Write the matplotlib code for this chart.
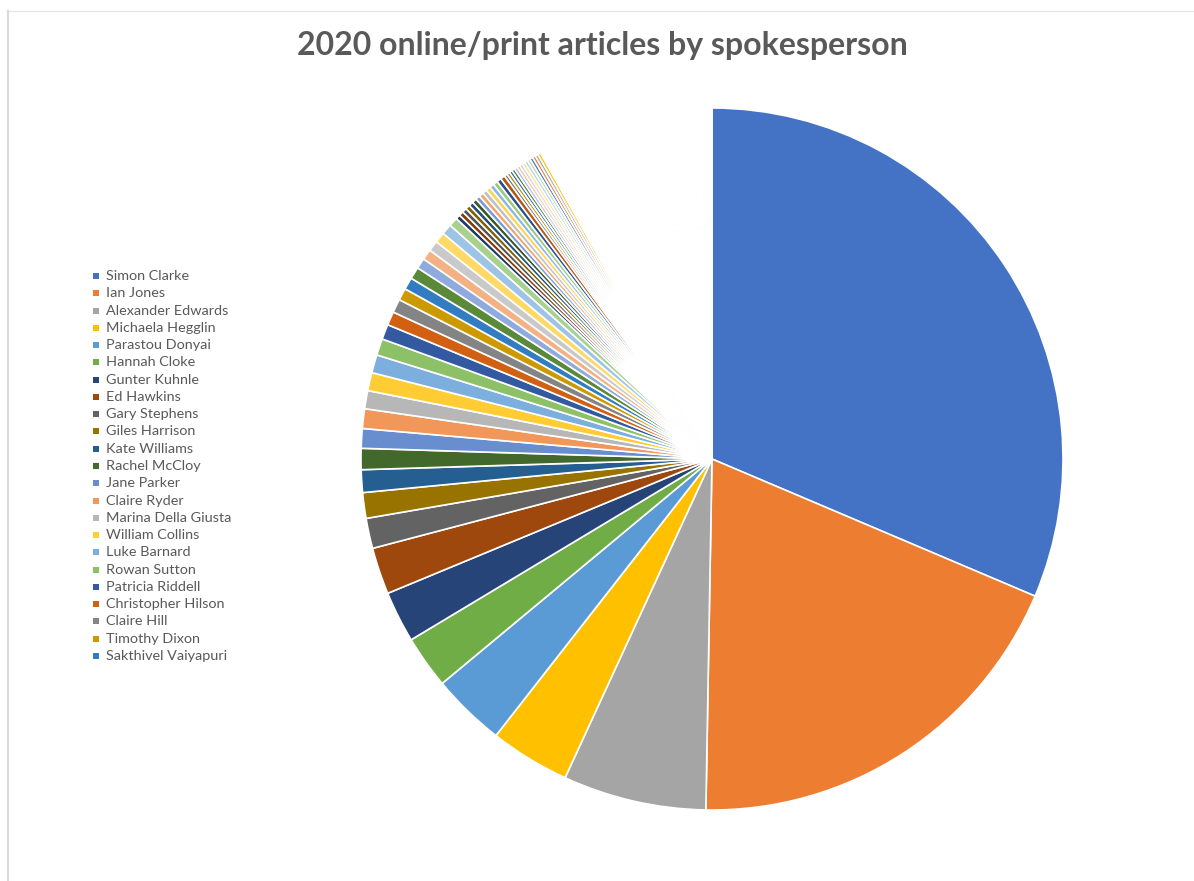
import colorsys
import matplotlib
matplotlib.use("Agg")
import matplotlib.pyplot as plt
from matplotlib.colors import to_rgb
from matplotlib.lines import Line2D
from matplotlib.patches import Rectangle

# spokespeople shown in the legend, largest first
spokespeople = [
    "Simon Clarke", "Ian Jones", "Alexander Edwards", "Michaela Hegglin",
    "Parastou Donyai", "Hannah Cloke", "Gunter Kuhnle", "Ed Hawkins",
    "Gary Stephens", "Giles Harrison", "Kate Williams", "Rachel McCloy",
    "Jane Parker", "Claire Ryder", "Marina Della Giusta", "William Collins",
    "Luke Barnard", "Rowan Sutton", "Patricia Riddell", "Christopher Hilson",
    "Claire Hill", "Timothy Dixon", "Sakthivel Vaiyapuri",
]
articles_named = [
    452, 272, 95, 53, 49, 35, 34, 31, 20, 17, 15, 14,
    13, 13, 12, 12, 12, 11, 10, 9, 9, 8, 8,
]
# everyone else, not listed in the legend
articles_other = [
    8, 7, 7, 7, 7, 7, 6,
    3, 3, 3, 3, 3, 3, 3, 3, 3, 3, 3, 3, 3, 3,
    2, 2, 2, 2, 2, 2, 2, 2, 2, 2, 2, 2, 2, 2,
    1, 1, 1, 1, 1, 1, 1, 1, 1, 1, 1, 1, 1, 1, 1, 1, 1, 1, 1, 1,
    1, 1, 1, 1, 1, 1, 1, 1, 1, 1, 1, 1, 1, 1, 1, 1, 1, 1, 1, 1,
    1, 1, 1, 1, 1, 1, 1, 1, 1, 1, 1, 1, 1, 1, 1, 1, 1, 1, 1, 1,
    1, 1, 1, 1, 1, 1, 1, 1, 1, 1, 1, 1, 1, 1, 1, 1, 1, 1, 1, 1,
    1, 1, 1, 1, 1, 1, 1, 1, 1, 1, 1, 1, 1, 1, 1, 1, 1, 1, 1, 1,
    1, 1, 1, 1, 1, 1, 1, 1, 1, 1, 1, 1, 1, 1, 1, 1, 1,
]
articles = articles_named + articles_other

# office theme accents, then darker / lighter shades of them
accents = ["#4472C4", "#ED7D31", "#A5A5A5", "#FFC000", "#5B9BD5", "#70AD47"]
shades = [(1.0, 0.0), (0.6, 0.0), (0.8, 0.2), (0.8, 0.0), (0.6, 0.4),
          (0.5, 0.0), (0.7, 0.3), (0.7, 0.0), (0.5, 0.5)]


def slice_color(i):
    mod, off = shades[(i // 6) % len(shades)]
    h, l, s = colorsys.rgb_to_hls(*to_rgb(accents[i % 6]))
    return colorsys.hls_to_rgb(h, min(1.0, l * mod + off), s)


colors = [slice_color(i) for i in range(len(articles))]

W, H = 1194, 881
fig = plt.figure(figsize=(W / 100, H / 100), dpi=100)
plt.rcParams['font.family'] = ['Lato', 'DejaVu Sans']
text_grey = "#595959"

# pie, 12 o'clock start, clockwise
cx, cy, r = 712, 459, 351
ax = fig.add_axes([(cx - r) / W, (H - cy - r) / H, 2 * r / W, 2 * r / H])
wedges, _ = ax.pie(articles, colors=colors, startangle=90, counterclock=False,
                   wedgeprops=dict(edgecolor="white", linewidth=1.2))
ax.set_xlim(-1, 1)
ax.set_ylim(-1, 1)
ax.set_axis_off()

fig.text(602 / W, 1 - 45 / H, "2020 online/print articles by spokesperson",
         ha="center", va="center", fontsize=23, fontweight="bold",
         color=text_grey)

# legend down the left side
y0, step = 276, 17.27
for k, name in enumerate(spokespeople):
    y = y0 + k * step
    fig.add_artist(Rectangle((93 / W, 1 - (y + 3) / H), 6 / W, 6 / H,
                             transform=fig.transFigure,
                             facecolor=colors[k], edgecolor="none"))
    fig.text(106 / W, 1 - y / H, name, ha="left", va="center",
             fontsize=10.4, color=text_grey)

# chart area frame
fig.add_artist(Line2D([7 / W, 1], [1 - 11 / H, 1 - 11 / H],
                      transform=fig.transFigure, color="#e6e6e6", lw=1))
fig.add_artist(Line2D([7.5 / W, 7.5 / W], [0, 1 - 11 / H],
                      transform=fig.transFigure, color="#d9d9d9", lw=1.5))

fig.savefig("out.png", dpi=100)
